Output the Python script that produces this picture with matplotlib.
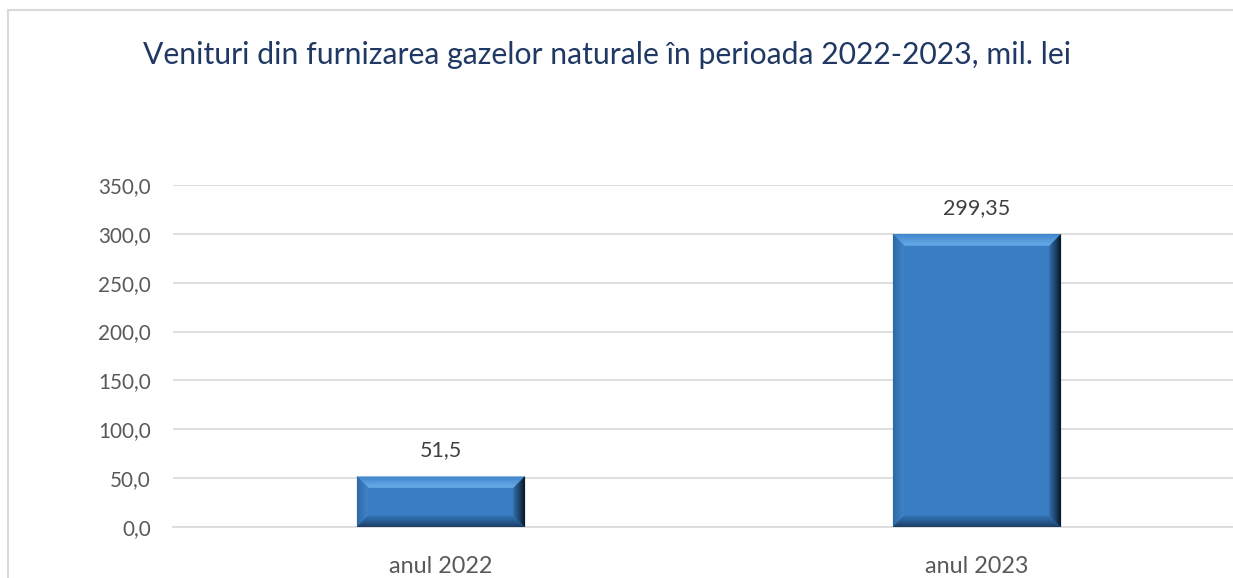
import matplotlib.pyplot as plt
import matplotlib.patches as mpatches
import matplotlib.colors as mcolors
import numpy as np

# data
categories = ["anul 2022", "anul 2023"]
values = [51.5, 299.35]
value_labels = ["51,5", "299,35"]
yticks = [0, 50, 100, 150, 200, 250, 300, 350]
title = "Venituri din furnizarea gazelor naturale în perioada 2022-2023, mil. lei"

plt.rcParams['font.family'] = ['Lato', 'DejaVu Sans']

W, H = 1233, 578
fig = plt.figure(figsize=(W / 100, H / 100), dpi=100)
fig.patch.set_facecolor('white')

# chart frame (light gray border, cut by the image edges)
fig.add_artist(mpatches.Rectangle((7.5 / W, -0.1), 1.2, 1.1 - 10.5 / H,
                                  transform=fig.transFigure, fill=False,
                                  edgecolor='#D9D9D9', lw=1.5))

ax = fig.add_axes([173 / W, 51 / H, 1072 / W, 342 / H])
x = np.arange(len(categories))
main = '#3A7DC2'
bars = ax.bar(x, values, width=0.313, color=main, zorder=3)

ax.set_xlim(-0.5, 1.5)
ax.set_ylim(0, 350)
ax.set_yticks(yticks)
ax.set_yticklabels([f"{v:.1f}".replace('.', ',') for v in yticks])
ax.set_xticks(x)
ax.set_xticklabels(categories)
ax.tick_params(length=0, labelcolor='#595959')
ax.tick_params(axis='y', pad=16, labelsize=14.9)
ax.tick_params(axis='x', pad=21, labelsize=16.8)
ax.grid(axis='y', color='#D9D9D9', lw=1.2, zorder=0)
for s in ['top', 'right', 'left']:
    ax.spines[s].set_visible(False)
ax.spines['bottom'].set_color('#D9D9D9')
ax.spines['bottom'].set_linewidth(1.2)

# data labels
for b, lab in zip(bars, value_labels):
    ax.annotate(lab, (b.get_x() + b.get_width() / 2, b.get_height()),
                xytext=(0, 12), textcoords='offset points',
                ha='center', va='bottom', fontsize=15.5, color='#404040')

# bevel effect, built from each bar's display box
fig.canvas.draw()
inv = ax.transData.inverted()
bev = 11
n = 12
sides = {
    # side: (outer colour, inner colour)
    'top': ('#4388CE', '#6AAEEB'),
    'left': ('#2D68A6', '#4184C8'),
    'right': ('#07121E', '#2F67A2'),
    'bottom': ('#1B3B5E', '#3272B4'),
}


def inset(bb, d):
    return bb.x0 + d, bb.y0 + d, bb.x1 - d, bb.y1 - d


for b in bars:
    bb = b.get_window_extent()
    for side, (c_out, c_in) in sides.items():
        c_out = np.array(mcolors.to_rgb(c_out))
        c_in = np.array(mcolors.to_rgb(c_in))
        for i in range(n):
            a0, b0, a1, b1 = inset(bb, bev * i / n)
            p0, q0, p1, q1 = inset(bb, bev * (i + 1) / n)
            if side == 'top':
                pts = [(a0, b1), (a1, b1), (p1, q1), (p0, q1)]
            elif side == 'bottom':
                pts = [(a0, b0), (a1, b0), (p1, q0), (p0, q0)]
            elif side == 'left':
                pts = [(a0, b0), (a0, b1), (p0, q1), (p0, q0)]
            else:
                pts = [(a1, b0), (a1, b1), (p1, q1), (p1, q0)]
            t = (i + 0.5) / n
            c = c_out * (1 - t) + c_in * t
            ax.add_patch(mpatches.Polygon(inv.transform(pts), closed=True,
                                          facecolor=c, edgecolor=c, lw=0.3,
                                          zorder=4))

fig.text(143 / W, 1 - 55 / H, title, fontsize=21.7, color='#1F3864',
         ha='left', va='center')

fig.savefig('out.png', dpi=100)
